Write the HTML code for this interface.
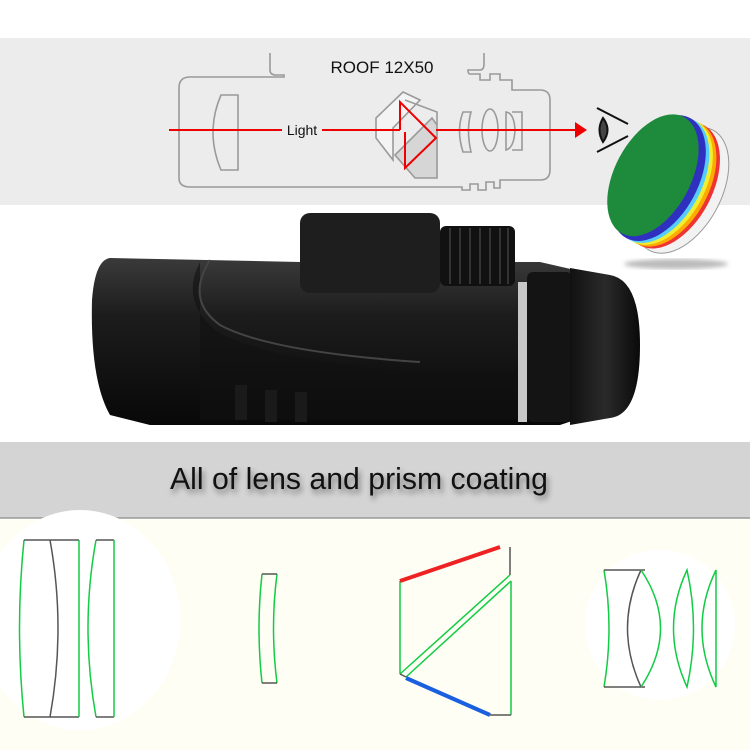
<!DOCTYPE html>
<html><head><meta charset="utf-8"><style>
html,body{margin:0;padding:0;background:#fff}
svg{display:block}
</style></head><body>
<svg width="750" height="750" viewBox="0 0 750 750" xmlns="http://www.w3.org/2000/svg">
<defs>
<linearGradient id="body" x1="0" y1="0" x2="0" y2="1">
<stop offset="0" stop-color="#3a3a3a"/><stop offset="0.35" stop-color="#1c1c1c"/><stop offset="1" stop-color="#080808"/>
</linearGradient>
<linearGradient id="cap" x1="0" y1="0" x2="1" y2="0">
<stop offset="0" stop-color="#111"/><stop offset="0.5" stop-color="#2a2a2a"/><stop offset="1" stop-color="#0a0a0a"/>
</linearGradient>
<radialGradient id="shadow"><stop offset="0" stop-color="#999"/><stop offset="1" stop-color="#fff" stop-opacity="0"/></radialGradient>
<filter id="blur"><feGaussianBlur stdDeviation="2"/></filter>
</defs>
<!-- top band -->
<rect x="0" y="38" width="750" height="167" fill="#ececec"/>
<!-- outline -->
<g fill="none" stroke="#9a9a9a" stroke-width="1.6">
<path d="M270,53 V70 Q270,75 276,75 H284 V77 H190 Q179,77 179,88 V178 Q179,187 190,187 H462 V190 H470 V184 H478 V190 H486 V182 H494 V188 H500 V180 H540 Q550,180 550,170 V100 Q550,90 540,90 H512 V80 H500 V74 H490 V80 H480 V74 H470 Q468,74 468,70 H480 Q484,70 484,64 V53"/>
<path d="M221,95 Q205,132 221,170 H238 V95 Z"/>
<path d="M376,118 L403,92 L420,100 L393,128 L393,160 L376,138 Z" fill="#f4f4f4"/>
<path d="M395,155 L432,118 L437,125 V178 H415 Z" fill="#d6d6d6"/>
<path d="M405,100 L437,112 V125"/>
<path d="M463,112 Q456,130 463,152 H471 Q466,130 471,112 Z"/>
<ellipse cx="490" cy="130" rx="8" ry="21"/>
<path d="M506,112 Q514,113 515,130 Q514,148 506,150 Z M512,112 H522 V150 H512"/>
</g>
<g fill="none" stroke="#e00" stroke-width="2">
<line x1="169" y1="130" x2="282" y2="130"/>
<line x1="322" y1="130" x2="400" y2="130"/>
<path d="M400,130 V102 L436,138 L405,168 V132"/>
<line x1="436" y1="130" x2="577" y2="130"/>
</g>
<polygon points="575,122 587,130 575,138" fill="#e00"/>
<text x="302" y="135" font-family="Liberation Sans, sans-serif" font-size="14" text-anchor="middle" fill="#111">Light</text>
<text x="382" y="73" font-family="Liberation Sans, sans-serif" font-size="17" text-anchor="middle" fill="#111">ROOF 12X50</text>
<!-- eye -->
<g stroke="#111" stroke-width="2" fill="none">
<line x1="597" y1="108" x2="628" y2="124"/>
<line x1="597" y1="152" x2="628" y2="136"/>
<path d="M603,118 Q596,130 603,142 Q612,130 603,118Z" fill="#444"/>
</g>
<!-- coated lens -->
<ellipse cx="676" cy="264" rx="52" ry="5" fill="#bbb" filter="url(#blur)"/>
<g transform="rotate(28 675 187)">
<ellipse cx="682" cy="187" rx="40" ry="68" fill="#f2f2f2" stroke="#999"/>
<ellipse cx="672" cy="187" rx="40" ry="68" fill="#e33"/>
<ellipse cx="668" cy="187" rx="40" ry="68" fill="#fa0"/>
<ellipse cx="664" cy="187" rx="40" ry="68" fill="#ee3"/>
<ellipse cx="660" cy="187" rx="40" ry="68" fill="#5cf"/>
<ellipse cx="656" cy="187" rx="40" ry="68" fill="#3030c0"/>
<ellipse cx="650" cy="187" rx="38" ry="66" fill="#1e8a3c"/>
</g>
<!-- monocular -->
<path d="M110,258 Q95,260 92,300 Q90,380 110,415 L150,425 H560 L575,420 V270 L540,262 H300 Z" fill="url(#body)"/>
<path d="M200,262 Q180,300 215,330 Q260,360 420,372 L560,370 V420 H200 Z" fill="#111" opacity="0.6"/>
<path d="M210,260 Q185,300 220,325 Q270,352 420,362" fill="none" stroke="#444" stroke-width="2"/>
<rect x="518" y="282" width="9" height="140" fill="#c8c8c8"/>
<rect x="527" y="272" width="45" height="150" rx="6" fill="#141414"/>
<path d="M570,268 L610,275 Q640,280 640,345 Q640,415 610,418 L570,425 Z" fill="url(#cap)"/>
<rect x="300" y="213" width="140" height="80" rx="10" fill="#1e1e1e"/>
<rect x="440" y="226" width="75" height="60" rx="6" fill="#111"/>
<g stroke="#333" stroke-width="2">
<line x1="450" y1="228" x2="450" y2="284"/><line x1="460" y1="228" x2="460" y2="284"/><line x1="470" y1="228" x2="470" y2="284"/><line x1="480" y1="228" x2="480" y2="284"/><line x1="490" y1="228" x2="490" y2="284"/><line x1="500" y1="228" x2="500" y2="284"/><line x1="508" y1="228" x2="508" y2="284"/>
</g>
<g fill="#1a1a1a"><rect x="235" y="385" width="12" height="35"/><rect x="265" y="390" width="12" height="32"/><rect x="295" y="392" width="12" height="30"/></g>
<!-- gray band -->
<rect x="0" y="442" width="750" height="76" fill="#d4d4d4"/>
<line x1="0" y1="518" x2="750" y2="518" stroke="#999" stroke-width="1.5"/>
<text x="170" y="489" font-family="Liberation Sans, sans-serif" font-size="31" fill="#111" textLength="378" lengthAdjust="spacingAndGlyphs" style="filter:drop-shadow(2px 4px 3px rgba(0,0,0,0.45))">All of lens and prism coating</text>
<!-- bottom -->
<rect x="0" y="519" width="750" height="231" fill="#fefef4"/>
<ellipse cx="80" cy="620" rx="100" ry="110" fill="#fff"/>
<ellipse cx="660" cy="625" rx="75" ry="75" fill="#fff"/>
<g fill="none" stroke-width="1.5">
<path d="M24,540 Q15,628 24,717" stroke="#1c4"/>
<line x1="24" y1="540" x2="79" y2="540" stroke="#555"/><line x1="24" y1="717" x2="79" y2="717" stroke="#555"/>
<path d="M50,540 Q66,628 50,717" stroke="#555"/>
<line x1="79" y1="540" x2="79" y2="717" stroke="#1c4"/>
<path d="M96,540 Q80,628 96,717" stroke="#1c4"/>
<line x1="96" y1="540" x2="114" y2="540" stroke="#555"/><line x1="96" y1="717" x2="114" y2="717" stroke="#555"/>
<line x1="114" y1="540" x2="114" y2="717" stroke="#1c4"/>
<path d="M262,574 Q256,628 262,683" stroke="#1c4"/>
<path d="M277,574 Q270,628 277,683" stroke="#1c4"/>
<line x1="262" y1="574" x2="277" y2="574" stroke="#555"/><line x1="262" y1="683" x2="277" y2="683" stroke="#555"/>
<line x1="400" y1="581" x2="400" y2="674" stroke="#1c4"/>
<line x1="510" y1="547" x2="510" y2="575" stroke="#555"/>
<line x1="510" y1="575" x2="400" y2="674" stroke="#1c4"/>
<line x1="511" y1="581" x2="406" y2="677" stroke="#1c4"/>
<line x1="511" y1="581" x2="511" y2="715" stroke="#1c4"/>
<line x1="490" y1="715" x2="511" y2="715" stroke="#555"/>
<line x1="400" y1="674" x2="406" y2="677" stroke="#555"/>
<path d="M604,570 Q614,628 604,687" stroke="#1c4"/>
<line x1="604" y1="570" x2="645" y2="570" stroke="#555"/><line x1="604" y1="687" x2="645" y2="687" stroke="#555"/>
<path d="M641,570 Q614,628 641,687" stroke="#555"/>
<path d="M641,570 Q680,628 641,687" stroke="#1c4"/>
<path d="M687,570 Q660,628 687,687 Q700,628 687,570Z" stroke="#1c4"/>
<path d="M716,570 Q688,628 716,687 V570Z" stroke="#1c4"/>
</g>
<line x1="400" y1="581" x2="500" y2="547" stroke="#e22" stroke-width="4"/>
<line x1="406" y1="678" x2="490" y2="715" stroke="#1a5fe0" stroke-width="4"/>
</svg>
</body></html>
